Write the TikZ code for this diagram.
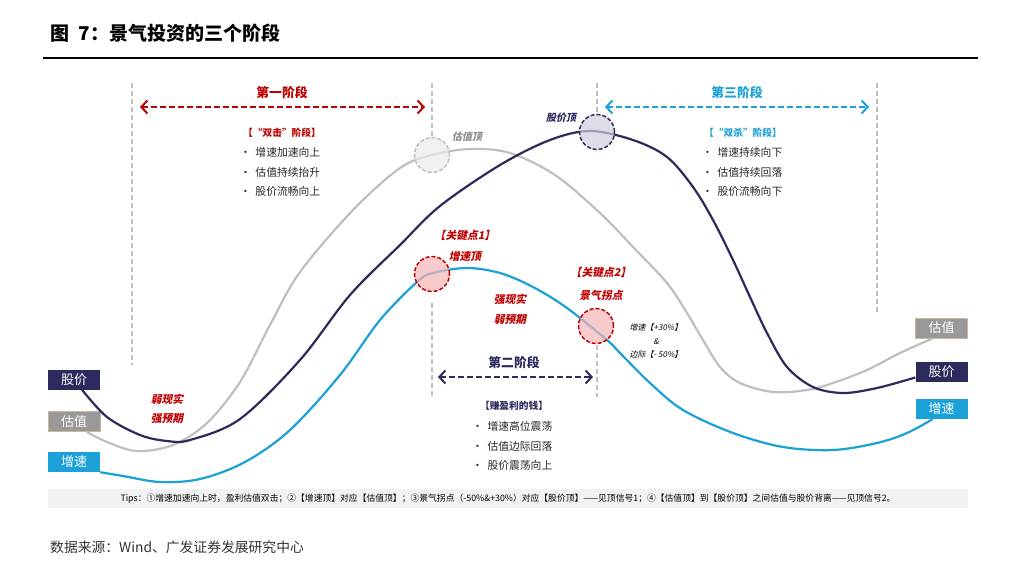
\documentclass[tikz,border=0pt]{standalone}
\usepackage{fontspec}
\setmainfont{Noto Sans CJK SC}
\newfontfamily\slantfont[FakeSlant=0.2]{Noto Sans CJK SC}
\usetikzlibrary{arrows.meta,positioning}
\definecolor{gjnavy}{HTML}{2B2B5E}
\definecolor{gjblue}{HTML}{1BA1D8}
\definecolor{gjgray}{HTML}{BFBFBF}
\definecolor{gjbox}{HTML}{999999}
\definecolor{gjtan}{HTML}{C9B79C}
\definecolor{gjred}{HTML}{C00000}
\definecolor{gjpink}{HTML}{F4B4B6}
\definecolor{gjlav}{HTML}{CFCFDD}
\definecolor{gjtips}{HTML}{F2F2F2}

\begin{document}
\begin{tikzpicture}[x=1pt, y=-1pt, font=\fontsize{10.8}{19.5}\selectfont]
\tikzstyle{legbox}=[minimum width=52pt, minimum height=20pt, inner sep=0pt, text=white, font=\fontsize{13}{13}\selectfont]
\tikzstyle{vline}=[gjgray, line width=1.3pt, dash pattern=on 5pt off 3pt]
\tikzstyle{stage}=[line width=2pt, dash pattern=on 6pt off 3pt, {Straight Barb[length=6pt,width=13pt,line width=2pt]}-{Straight Barb[length=6pt,width=13pt,line width=2pt]}]
\tikzstyle{stagelbl}=[inner sep=0pt, font=\bfseries\fontsize{12.8}{13}\selectfont]
\tikzstyle{head}=[inner sep=0pt, font=\bfseries\fontsize{9.7}{11}\selectfont]
\tikzstyle{blist}=[inner sep=0pt, anchor=west, align=left, text=black!85]
\tikzstyle{keyc}=[circle, minimum size=35pt, inner sep=0pt, line width=1.5pt, dash pattern=on 4pt off 2pt, fill opacity=0.7]
\tikzstyle{redlbl}=[inner sep=0pt, text=gjred, font=\fontsize{10.8}{12}\slantfont\bfseries]
\tikzstyle{curve}=[line width=2.2pt]
\useasboundingbox (0,0) rectangle (1024,562);
% title and rule
\node[anchor=west, inner sep=0pt, font=\bfseries\fontsize{19}{19}\selectfont] (title) at (50,33) {图\hspace{0.5em}7：景气投资的三个阶段};
\draw[line width=1.2pt] (43,58) -- (978,58);
% dashed stage borders
\coordinate (v1t) at (132,83);  \coordinate (v1b) at (132,365);
\coordinate (v2t) at (432,83);  \coordinate (v2m) at (432,303); \coordinate (v2b) at (432,397);
\coordinate (v3t) at (597,83);  \coordinate (v3m) at (597,345); \coordinate (v3b) at (597,397);
\coordinate (v4t) at (877,83);  \coordinate (v4b) at (877,313);
% legend boxes
\node[legbox, fill=gjnavy] (gj1) at (74,379.5) {股价};
\node[legbox, fill=gjbox, draw=gjtan, line width=0.8pt] (gz1) at (74,421.5) {估值};
\node[legbox, fill=gjblue] (zs1) at (74,462) {增速};
\node[legbox, fill=gjbox, draw=gjtan, line width=0.8pt] (gz2) at (941.5,328) {估值};
\node[legbox, fill=gjnavy] (gj2) at (941.5,371.5) {股价};
\node[legbox, fill=gjblue] (zs2) at (941.5,409) {增速};
% curves
\draw[curve, gjgray] plot[smooth, tension=0.55] coordinates {([xshift=13pt]gz1.south) (107,442) (137,451) (173,445) (207,423) (240,382) (270,325) (300,272) (353,210) (400,168) (432,155) (470,149) (510,153) (555,175) (600,213) (633,247) (667,283) (687,313) (703,340) (720,367) (740,383) (773,392) (807,390) (833,383) (867,370) (900,353) ([xshift=-9pt]gz2.south)};
\draw[curve, gjnavy] plot[smooth, tension=0.55] coordinates {([xshift=8pt]gj1.south) (107,417) (140,435) (167,441) (190,440) (240,419) (300,360) (350,295) (400,245) (440,206) (500,165) (550,140) (590,131) (633,140) (667,157) (693,187) (713,220) (733,260) (750,297) (767,333) (787,367) (813,387) (843,393) (877,388) ([yshift=-6pt]gj2.west)};
\draw[curve, gjblue] plot[smooth, tension=0.55] coordinates {(zs1.south east) (123,476) (160,482) (200,479) (245,462) (290,430) (340,375) (380,320) (417,282) (433,273) (467,268) (500,273) (533,287) (567,308) (607,340) (620,353) (650,383) (683,410) (733,433) (783,447) (833,450) (877,443) (907,433) ([xshift=-9pt]zs2.south)};
% key points
\node[keyc, draw=gjgray, fill=black!8] (gzd) at (432,155) {};
\node[keyc, draw=gjnavy, fill=gjlav] (gjd) at (597,132) {};
\node[keyc, draw=gjred, fill=gjpink] (zsd) at (432,274) {};
\node[keyc, draw=gjred, fill=gjpink] (jqg) at (596,326) {};
\draw[vline] (v1t) -- (v1b);
\draw[vline] (v2t) -- (gzd.north);
\draw[vline] (v2m) -- (v2b);
\draw[vline] (v3t) -- (gjd.north);
\draw[vline] (v3m) -- (v3b);
\draw[vline] (v4t) -- (v4b);
\node[inner sep=0pt, text=black!45, font=\fontsize{10}{12}\slantfont\bfseries] (gzdl) at (467,137) {估值顶};
\node[inner sep=0pt, text=gjnavy, font=\fontsize{10}{12}\slantfont\bfseries] (gjdl) at (561,118) {股价顶};
\node[redlbl] (k1) at (465,235) {【关键点1】};
\node[redlbl] (k1b) at (465,256) {增速顶};
\node[redlbl] (k2) at (601,272) {【关键点2】};
\node[redlbl] (k2b) at (601,295) {景气拐点};
\node[redlbl] (qx1) at (510,299) {强现实};
\node[redlbl] (qx2) at (510,319) {弱预期};
\node[redlbl] (rx1) at (167,399) {弱现实};
\node[redlbl] (rx2) at (167,419) {强预期};
\node[inner sep=0pt, align=center, font=\fontsize{8}{13.5}\slantfont] (bj) at (656,341) {增速【+30\%】\\\&\\边际【- 50\%】};
% stage one
\coordinate (s1l) at (140,107); \coordinate (s1r) at (425,107);
\draw[stage, gjred] (s1l) -- (s1r);
\node[stagelbl, text=gjred] (stg1) at (282,93) {第一阶段};
\node[head, text=gjred] (hd1) at (282,133) {【“双击”阶段】};
\node[blist] (ls1) at (240,172) {\textbullet\hspace{4.5pt}增速加速向上\\\textbullet\hspace{4.5pt}估值持续抬升\\\textbullet\hspace{4.5pt}股价流畅向上};
% stage two
\coordinate (s2l) at (438,377); \coordinate (s2r) at (593,377);
\draw[stage, gjnavy] (s2l) -- (s2r);
\node[stagelbl, text=gjnavy] (stg2) at (514,363) {第二阶段};
\node[head, text=gjnavy] (hd2) at (514,406) {【赚盈利的钱】};
\node[blist] (ls2) at (472,446) {\textbullet\hspace{4.5pt}增速高位震荡\\\textbullet\hspace{4.5pt}估值边际回落\\\textbullet\hspace{4.5pt}股价震荡向上};
% stage three
\coordinate (s3l) at (605,107); \coordinate (s3r) at (869,107);
\draw[stage, gjblue] (s3l) -- (s3r);
\node[stagelbl, text=gjblue] (stg3) at (737,93) {第三阶段};
\node[head, text=gjblue] (hd3) at (743,133) {【“双杀”阶段】};
\node[blist] (ls3) at (702,172) {\textbullet\hspace{4.5pt}增速持续向下\\\textbullet\hspace{4.5pt}估值持续回落\\\textbullet\hspace{4.5pt}股价流畅向下};
% tips and source
\node[fill=gjtips, minimum width=920pt, minimum height=19pt, inner sep=0pt, font=\fontsize{8.8}{10}\selectfont] (tips) at (508,498.5) {Tips：①增速加速向上时，盈利估值双击；②【增速顶】对应【估值顶】；③景气拐点（-50\%\&+30\%）对应【股价顶】——见顶信号1；④【估值顶】到【股价顶】之间估值与股价背离——见顶信号2。};
\node[anchor=west, inner sep=0pt, text=black!80, font=\fontsize{13.8}{14}\selectfont] (src) at (50,547) {数据来源：Wind、广发证券发展研究中心};
\end{tikzpicture}
\end{document}
